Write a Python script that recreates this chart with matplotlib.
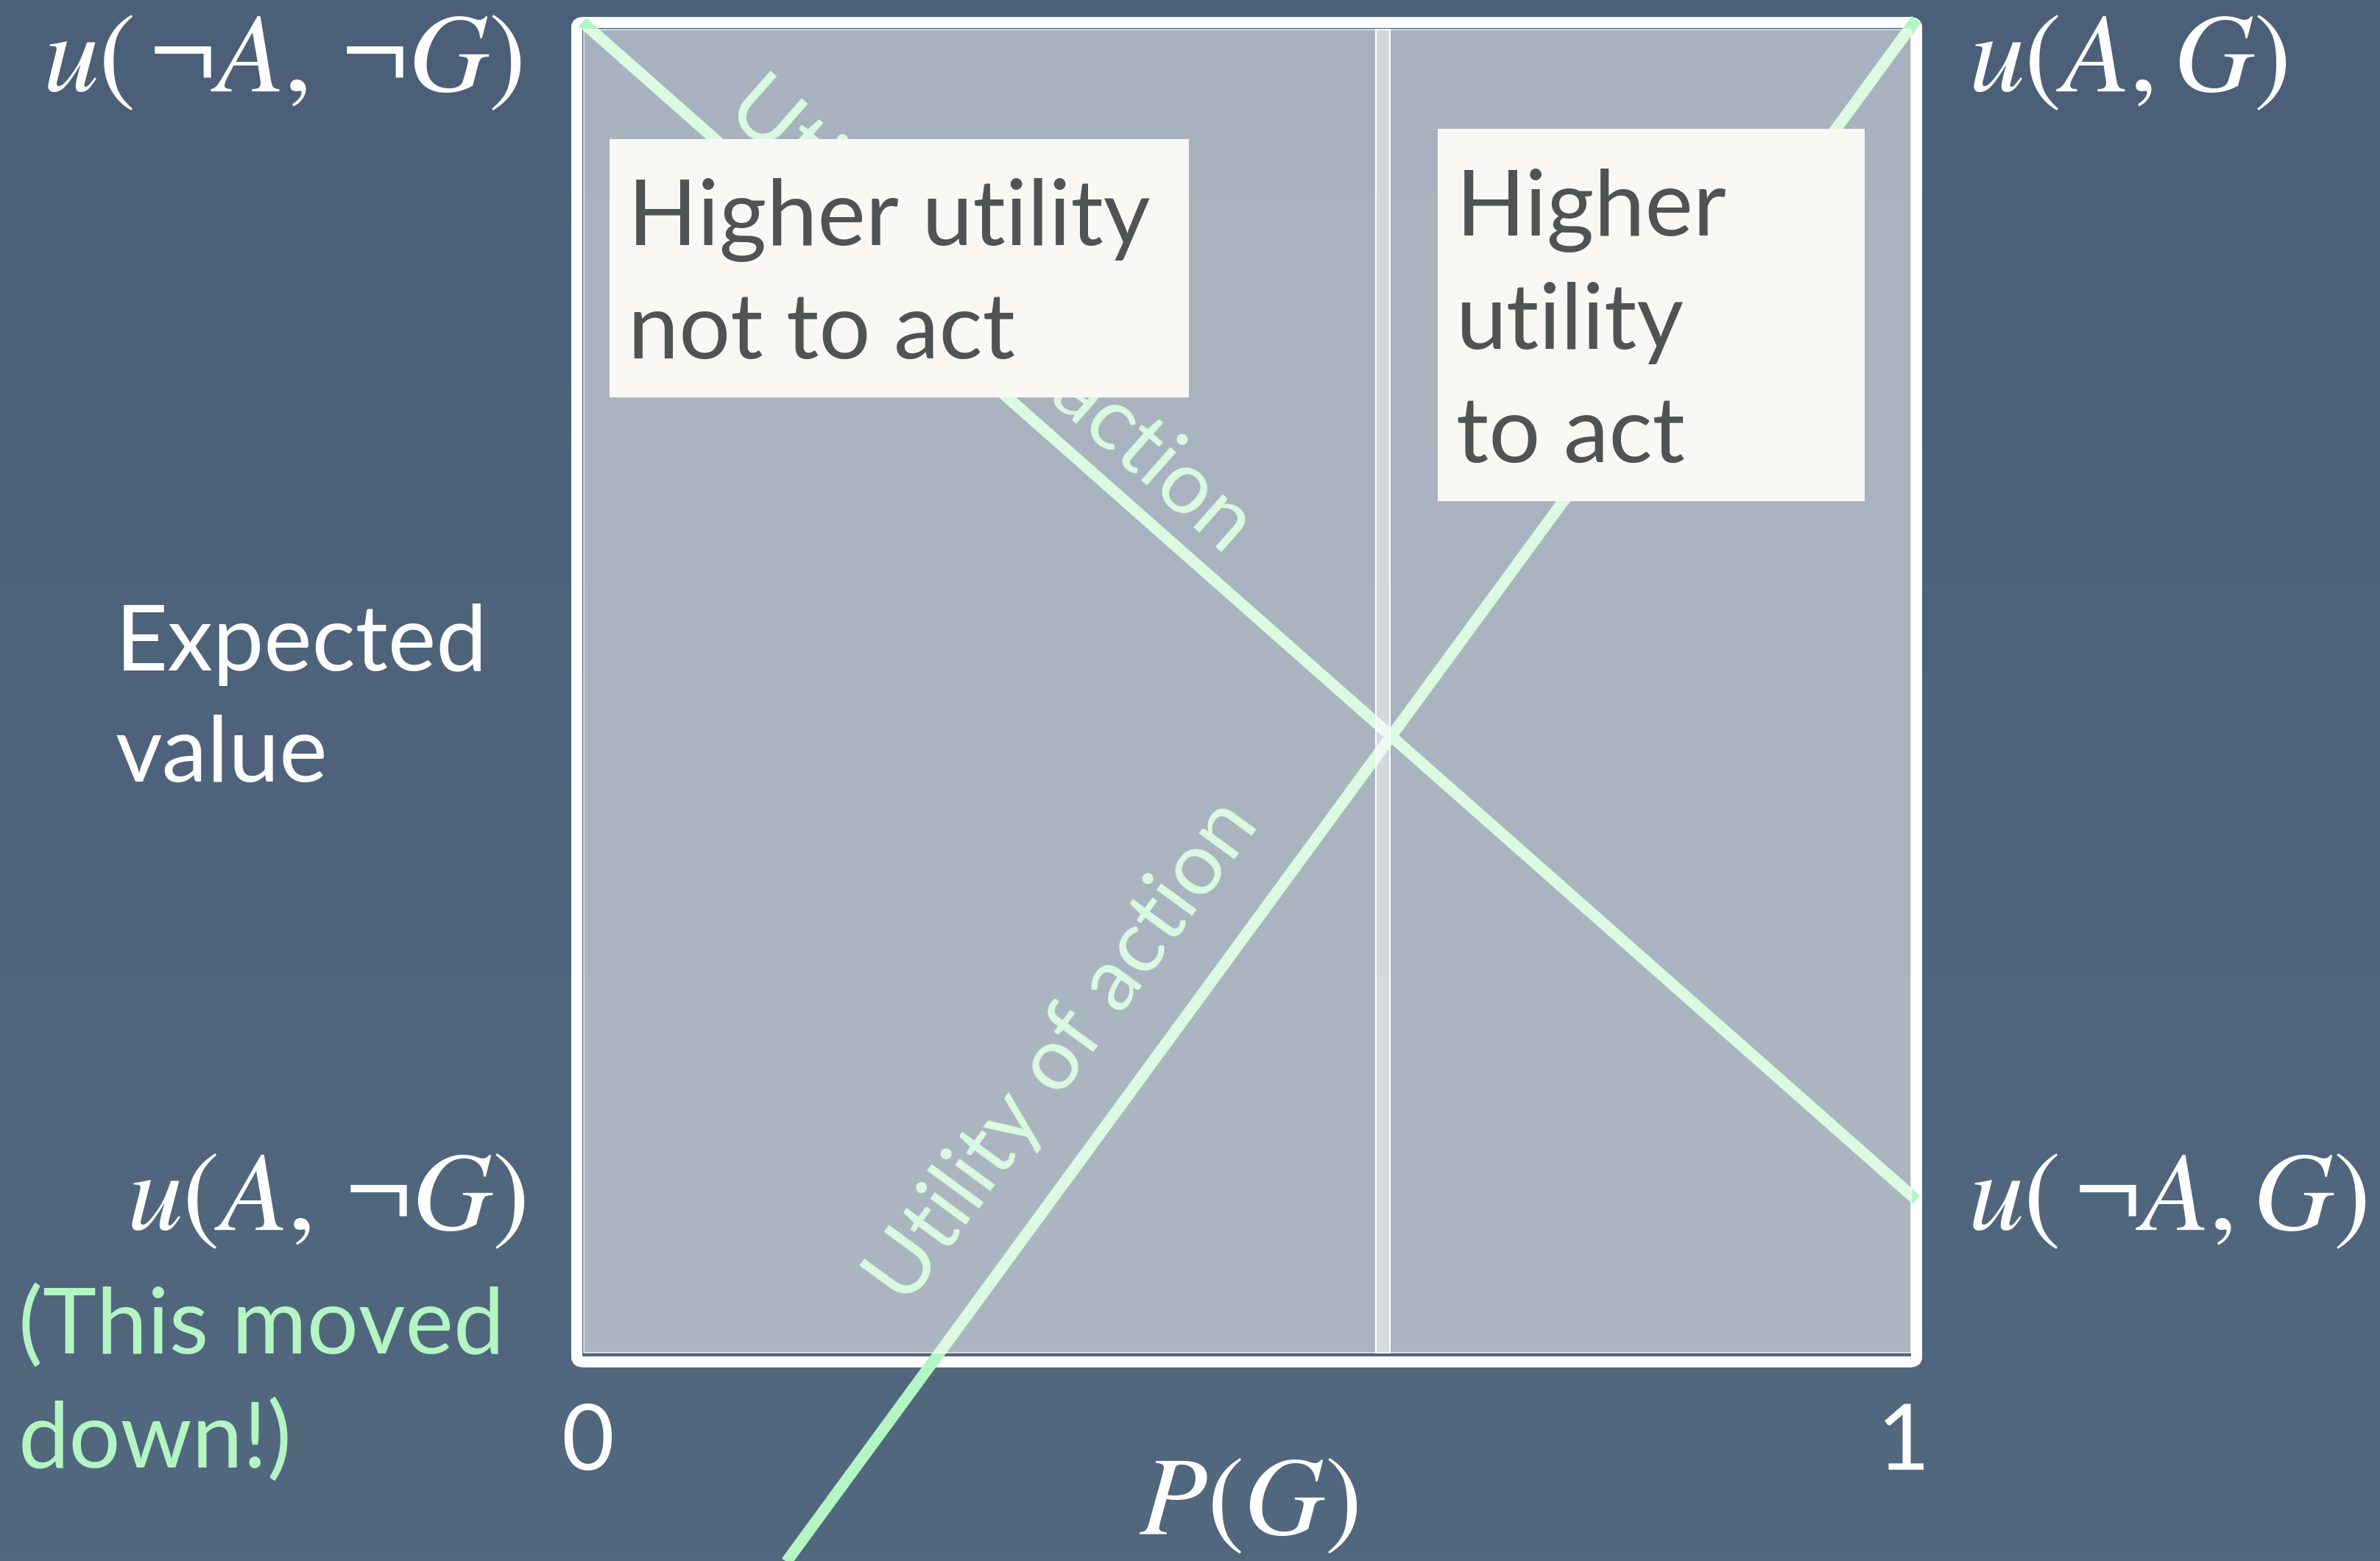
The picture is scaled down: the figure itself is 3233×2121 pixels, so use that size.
import numpy as np
import matplotlib
matplotlib.use("Agg")
import matplotlib.pyplot as plt
from matplotlib.patches import Rectangle, FancyBboxPatch
from matplotlib.colors import LinearSegmentedColormap

# ---------------- data ----------------
p_g = [0.0, 1.0]                      # P(G)
u_inaction = [1.0, 0.116]             # u(¬A,¬G) at P=0, u(¬A,G) at P=1
u_action = [-0.365, 1.002]            # u(A,¬G) at P=0 (moved down), u(A,G) at P=1
p_threshold = 0.6                     # indifference point
x_ticks = [0, 1]
x_tick_labels = ["0", "1"]
line_labels = ["Utility of inaction", "Utility of action"]
left_box_lines = ["Higher utility", "not to act"]
right_box_lines = ["Higher", "utility", "to act"]
ylabel_lines = ["Expected", "value"]
note_lines = ["(This moved", "down!)"]
left_labels = [r"$u(\,\neg A,\,\neg G)$", r"$u(A,\,\neg G)$"]
right_labels = [r"$u(A,G)$", r"$u(\,\neg A,G)$"]
xlabel = r"$P(G)$"

# ---------------- style ----------------
W, H, DPI = 3233, 2121, 100
GREEN = "#b3f5c3"
BOXFACE = "#f9f8f4"
BOXTEXT = "#505353"
SANS = ["Lato", "DejaVu Sans"]
FS = 89
plt.rcParams["mathtext.fontset"] = "stix"


def px(v):  # pixel length -> points
    return v * 72.0 / DPI


def fx(x):
    return x / W


def fy(y):
    return 1.0 - y / H


fig = plt.figure(figsize=(W / DPI, H / DPI), dpi=DPI)

# background gradient
bg = fig.add_axes([0, 0, 1, 1], zorder=-5)
grad = np.linspace(0, 1, 256).reshape(-1, 1)
cmap = LinearSegmentedColormap.from_list("bg", ["#4b6078", "#52687f"])
bg.imshow(grad, aspect="auto", cmap=cmap, extent=[0, 1, 0, 1], origin="upper")
bg.axis("off")

# main axes: P(G) 0..1 horizontally, expected value 0..1 vertically
X0, X1 = 791, 2603
Y1, Y0 = 30, 1840
ax = fig.add_axes([fx(X0), fy(Y0), (X1 - X0) / W, (Y0 - Y1) / H])
ax.set_xlim(0, 1)
ax.set_ylim(0, 1)
ax.axis("off")

# white frame
frame = FancyBboxPatch((fx(783.5), fy(1850.5)), fx(2603.5) - fx(783.5), fy(30.5) - fy(1850.5),
                       boxstyle="round,pad=0,rounding_size=0.003", transform=fig.transFigure,
                       fill=False, edgecolor="white", linewidth=px(15), clip_on=False, zorder=1)
ax.add_patch(frame)

# the two utility lines
ax.plot(p_g, u_inaction, color=GREEN, lw=px(15.5), solid_capstyle="butt", clip_on=False, zorder=3)
ax.plot(p_g, u_action, color=GREEN, lw=px(15.5), solid_capstyle="butt", clip_on=False, zorder=3)

# rotated line labels (under the translucent panel)
ax.text(fx(1345), fy(429), line_labels[0], transform=fig.transFigure, rotation=-41.43,
        rotation_mode="anchor", ha="center", va="center", color=GREEN, fontsize=86,
        family=SANS, zorder=3, clip_on=False)
ax.text(fx(1444), fy(1429), line_labels[1], transform=fig.transFigure, rotation=53.78,
        rotation_mode="anchor", ha="center", va="center", color=GREEN, fontsize=86,
        family=SANS, zorder=3, clip_on=False)

# translucent panel
overlay = Rectangle((fx(793), fy(1838)), fx(2596) - fx(793), fy(40) - fy(1838),
                    transform=fig.transFigure, facecolor=(1, 1, 1, 0.52),
                    edgecolor=(1, 1, 1, 0.85), linewidth=px(1.5), zorder=4, clip_on=False)
ax.add_patch(overlay)

# threshold band
ax.axvspan(p_threshold - 0.0052, p_threshold + 0.0052,
           ymin=(Y0 - 1838) / (Y0 - Y1), ymax=(Y0 - 40) / (Y0 - Y1),
           facecolor=(1, 1, 1, 0.5), edgecolor="white", lw=px(2), zorder=5)

# region boxes
for (x0, y0, x1, y1) in [(828, 189, 1615, 540), (1953, 175, 2533, 681)]:
    ax.add_patch(Rectangle((fx(x0), fy(y1)), fx(x1) - fx(x0), fy(y0) - fy(y1),
                           transform=fig.transFigure, facecolor=BOXFACE, edgecolor="none",
                           zorder=6, clip_on=False))

LS = 154
for i, t in enumerate(left_box_lines):
    fig.text(fx(853), fy(333 + i * LS), t, ha="left", va="baseline", fontsize=FS,
             color=BOXTEXT, family=SANS)
for i, t in enumerate(right_box_lines):
    fig.text(fx(1978), fy(320 + i * LS), t, ha="left", va="baseline", fontsize=FS,
             color=BOXTEXT, family=SANS)

# y label
for i, t in enumerate(ylabel_lines):
    fig.text(fx(157), fy(911 + i * 151), t, ha="left", va="baseline", fontsize=FS,
             color="white", family=SANS)

# note
for i, t in enumerate(note_lines):
    fig.text(fx(25), fy(1839 + i * 155), t, ha="left", va="baseline", fontsize=FS,
             color=GREEN, family=SANS)

# x ticks
tick_px = {0: 798, 1: 2586}
for v, t in zip(x_ticks, x_tick_labels):
    fig.text(fx(tick_px[v]), fy(1997), t, ha="center", va="baseline",
             fontsize=FS, color="white", family=SANS)

# math labels
fig.text(fx(709), fy(123), left_labels[0], ha="right", va="baseline", fontsize=109, color="white")
fig.text(fx(714), fy(1670), left_labels[1], ha="right", va="baseline", fontsize=109, color="white")
fig.text(fx(2674), fy(123), right_labels[0], ha="left", va="baseline", fontsize=109, color="white")
fig.text(fx(2673), fy(1670), right_labels[1], ha="left", va="baseline", fontsize=109, color="white")
fig.text(fx(1696), fy(2084), xlabel, ha="center", va="baseline", fontsize=109, color="white")

fig.savefig("out.png", dpi=DPI)
